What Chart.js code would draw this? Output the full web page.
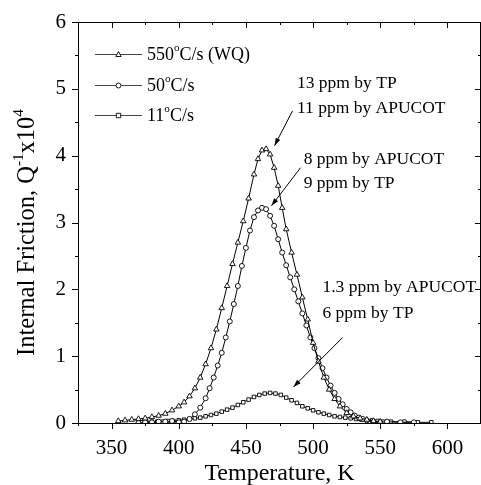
<!DOCTYPE html>
<html>
<head>
<meta charset="utf-8">
<script src="https://cdn.jsdelivr.net/npm/chart.js@4.4.0/dist/chart.umd.min.js"></script>
<style>
  html, body { margin: 0; padding: 0; background: #fff; }
  #wrap { width: 481px; height: 485px; }
</style>
</head>
<body>
<div id="wrap"><canvas id="chart" width="481" height="485"></canvas></div>
<script>
// internal friction peaks, temperature in K, Q^-1 in units of 1e-4
const wqTemp = [355,360,365,370,375,380,385,390,395,400,404,408,412,416,420,424,428,432,436,440,444,448,452,456,459,462,465,468,471,474,477,480,484,488,492,496,500,504,508,512,516,520,525,530,535,540,545,550];
const wqQ    = [0.03,0.04,0.05,0.06,0.07,0.09,0.11,0.14,0.19,0.25,0.31,0.40,0.52,0.68,0.88,1.12,1.40,1.72,2.05,2.38,2.70,3.02,3.36,3.72,3.95,4.08,4.10,4.02,3.82,3.55,3.22,2.90,2.55,2.22,1.88,1.55,1.20,0.92,0.68,0.50,0.36,0.25,0.15,0.10,0.07,0.05,0.03,0.02];

const midTemp = [370,375,380,385,390,395,400,404,408,412,416,420,423,426,429,432,435,438,441,444,447,450,453,456,459,462,465,468,471,474,477,480,483,486,489,492,495,498,501,504,507,510,513,516,519,522,525,528,531,534,537,540,545,550,555,565,575];
const midQ    = [0.00,0.01,0.01,0.02,0.02,0.03,0.01,0.02,0.06,0.13,0.23,0.37,0.52,0.68,0.86,1.05,1.28,1.52,1.78,2.05,2.35,2.62,2.88,3.08,3.18,3.22,3.20,3.10,2.95,2.75,2.55,2.36,2.18,2.00,1.82,1.64,1.46,1.28,1.12,0.97,0.82,0.68,0.56,0.45,0.36,0.28,0.21,0.16,0.11,0.08,0.06,0.04,0.02,0.01,0.02,0.01,0.01];

const slowTemp = [372,376,380,384,388,392,396,400,404,408,412,416,420,424,428,432,436,440,444,448,452,456,460,464,468,472,476,480,484,488,492,496,500,504,508,512,516,520,524,528,532,536,540,544,548,552,558,568,578,588];
const slowQ    = [0.01,0.01,0.02,0.02,0.02,0.03,0.03,0.04,0.05,0.06,0.07,0.08,0.10,0.12,0.14,0.17,0.20,0.23,0.27,0.31,0.35,0.39,0.42,0.44,0.45,0.44,0.42,0.38,0.34,0.30,0.25,0.22,0.19,0.16,0.14,0.12,0.10,0.09,0.08,0.07,0.06,0.05,0.04,0.04,0.03,0.02,0.02,0.02,0.01,0.01];

const seriesNames = ['550', '50', '11'];
const seriesTails = [' (WQ)', '', ''];
const xTicks = [350, 400, 450, 500, 550, 600];
const yTicks = [0, 1, 2, 3, 4, 5, 6];

// notes: [text, T, Q] for the label's left/middle, arrows: [fromT, fromQ, toT, toQ]
const notes = [
  ['13 ppm by TP', 488, 5.08],
  ['11 ppm by APUCOT', 488, 4.71],
  ['8 ppm by APUCOT', 493, 3.95],
  ['9 ppm by TP', 493, 3.58],
  ['1.3 ppm by APUCOT', 507, 2.03],
  ['6 ppm by TP', 507, 1.64]
];
const arrows = [
  [484.7, 4.67, 471.3, 4.15],
  [490.7, 3.82, 469, 3.25],
  [522, 1.28, 485.4, 0.54]
];

const SERIF = '"Liberation Serif", "DejaVu Serif", serif';

function pts(xs, ys) { return xs.map((x, i) => ({ x: x, y: ys[i] })); }

function series(data, shape) {
  return {
    data: data,
    showLine: true,
    borderColor: '#000',
    borderWidth: 1,
    pointStyle: shape,
    pointRadius: shape === 'triangle' ? 3.2 : 2.5,
    pointBackgroundColor: '#fff',
    pointBorderColor: '#000',
    pointBorderWidth: 0.9,
    tension: 0
  };
}

function drawSup(ctx, x, y, parts, size) {
  // parts: [text, isSup]
  let cx = x;
  parts.forEach(([t, sup]) => {
    ctx.font = (sup ? size * 0.62 : size) + 'px ' + SERIF;
    ctx.fillText(t, cx, sup ? y - size * 0.38 : y);
    cx += ctx.measureText(t).width;
  });
  return cx - x;
}

function supWidth(ctx, parts, size) {
  let w = 0;
  parts.forEach(([t, sup]) => {
    ctx.font = (sup ? size * 0.62 : size) + 'px ' + SERIF;
    w += ctx.measureText(t).width;
  });
  return w;
}

const frame = {
  id: 'frame',
  afterDraw(chart) {
    const { ctx, chartArea: a, scales: { x, y } } = chart;
    ctx.save();
    ctx.strokeStyle = '#000';
    ctx.fillStyle = '#000';
    ctx.lineWidth = 1;
    ctx.strokeRect(a.left + 0.5, a.top + 0.5, a.right - a.left - 1, a.bottom - a.top);

    // tick marks: outward on bottom/left, inward on top/right
    ctx.beginPath();
    for (let v = 325; v <= 625; v += 25) {
      const px = Math.round(x.getPixelForValue(v)) + 0.5;
      const len = v % 50 === 0 ? 6 : 3;
      ctx.moveTo(px, a.bottom); ctx.lineTo(px, a.bottom + len);
      ctx.moveTo(px, a.top); ctx.lineTo(px, a.top + len);
    }
    for (let v = 0; v <= 6; v += 0.5) {
      const py = Math.round(y.getPixelForValue(v)) + 0.5;
      const len = Number.isInteger(v) ? 6 : 3;
      ctx.moveTo(a.left, py); ctx.lineTo(a.left - len, py);
      ctx.moveTo(a.right, py); ctx.lineTo(a.right - len, py);
    }
    ctx.stroke();

    // axis titles
    ctx.textBaseline = 'middle';
    ctx.textAlign = 'center';
    ctx.font = '24px ' + SERIF;
    ctx.fillText('Temperature, K', (a.left + a.right) / 2, 474);

    const yt = [['Internal Friction, Q', false], ['-1', true], ['x10', false], ['4', true]];
    const w = supWidth(ctx, yt, 24.5);
    ctx.save();
    ctx.translate(28, (a.top + a.bottom) / 2 + 10);
    ctx.rotate(-Math.PI / 2);
    ctx.textAlign = 'left';
    drawSup(ctx, -w / 2, 0, yt, 24.5);
    ctx.restore();

    // legend
    ctx.textAlign = 'left';
    const rows = [54, 85, 115];
    chart.data.datasets.forEach((ds, i) => {
      const ly = rows[i] + 0.5;
      ctx.strokeStyle = '#444';
      ctx.beginPath();
      ctx.moveTo(95, ly); ctx.lineTo(142, ly);
      ctx.stroke();
      ctx.fillStyle = '#fff';
      ctx.strokeStyle = '#000';
      ctx.lineWidth = ds.pointBorderWidth;
      ctx.beginPath();
      if (ds.pointStyle === 'circle') ctx.arc(118.5, ly, ds.pointRadius, 0, Math.PI * 2);
      else if (ds.pointStyle === 'rect') ctx.rect(118.5 - 2.2, ly - 2.2, 4.4, 4.4);
      else { ctx.moveTo(118.5, ly - 3); ctx.lineTo(121.2, ly + 2); ctx.lineTo(115.8, ly + 2); ctx.closePath(); }
      ctx.fill(); ctx.stroke();
      ctx.lineWidth = 1;
      ctx.fillStyle = '#000';
      drawSup(ctx, 147, rows[i] + 1, [[seriesNames[i], false], ['o', true], ['C/s' + seriesTails[i], false]], 18);
    });

    // notes and arrows
    ctx.font = '17.5px ' + SERIF;
    notes.forEach(([t, tv, qv]) => {
      ctx.fillText(t, x.getPixelForValue(tv), y.getPixelForValue(qv));
    });
    ctx.lineWidth = 1;
    arrows.forEach(([t0, q0, t1, q1]) => {
      const x0 = x.getPixelForValue(t0), y0 = y.getPixelForValue(q0);
      const x1 = x.getPixelForValue(t1), y1 = y.getPixelForValue(q1);
      const ang = Math.atan2(y1 - y0, x1 - x0);
      ctx.beginPath();
      ctx.moveTo(x0, y0); ctx.lineTo(x1, y1);
      ctx.stroke();
      ctx.beginPath();
      ctx.moveTo(x1, y1);
      ctx.lineTo(x1 - 8 * Math.cos(ang - 0.32), y1 - 8 * Math.sin(ang - 0.32));
      ctx.lineTo(x1 - 8 * Math.cos(ang + 0.32), y1 - 8 * Math.sin(ang + 0.32));
      ctx.closePath();
      ctx.fill();
    });
    ctx.restore();
  }
};

new Chart(document.getElementById('chart'), {
  type: 'scatter',
  data: {
    datasets: [
      series(pts(wqTemp, wqQ), 'triangle'),
      series(pts(midTemp, midQ), 'circle'),
      series(pts(slowTemp, slowQ), 'rect')
    ]
  },
  options: {
    responsive: false,
    animation: false,
    layout: { autoPadding: false, padding: { top: 22, right: 0, left: 0, bottom: 0 } },
    plugins: { legend: { display: false }, tooltip: { enabled: false } },
    scales: {
      x: {
        type: 'linear', min: 325, max: 625,
        grid: { display: false }, border: { display: false },
        afterBuildTicks: s => { s.ticks = xTicks.map(v => ({ value: v })); },
        afterFit: s => { s.height = 62; s.paddingLeft = 0; s.paddingRight = 0; },
        ticks: { color: '#000', padding: 5, maxRotation: 0, font: { family: SERIF, size: 21 } }
      },
      y: {
        type: 'linear', min: 0, max: 6,
        grid: { display: false }, border: { display: false },
        afterBuildTicks: s => { s.ticks = yTicks.map(v => ({ value: v })); },
        afterFit: s => { s.width = 78; s.paddingTop = 0; s.paddingBottom = 0; },
        ticks: { color: '#000', padding: 4, font: { family: SERIF, size: 21 } }
      }
    }
  },
  plugins: [frame]
});
</script>
</body>
</html>
